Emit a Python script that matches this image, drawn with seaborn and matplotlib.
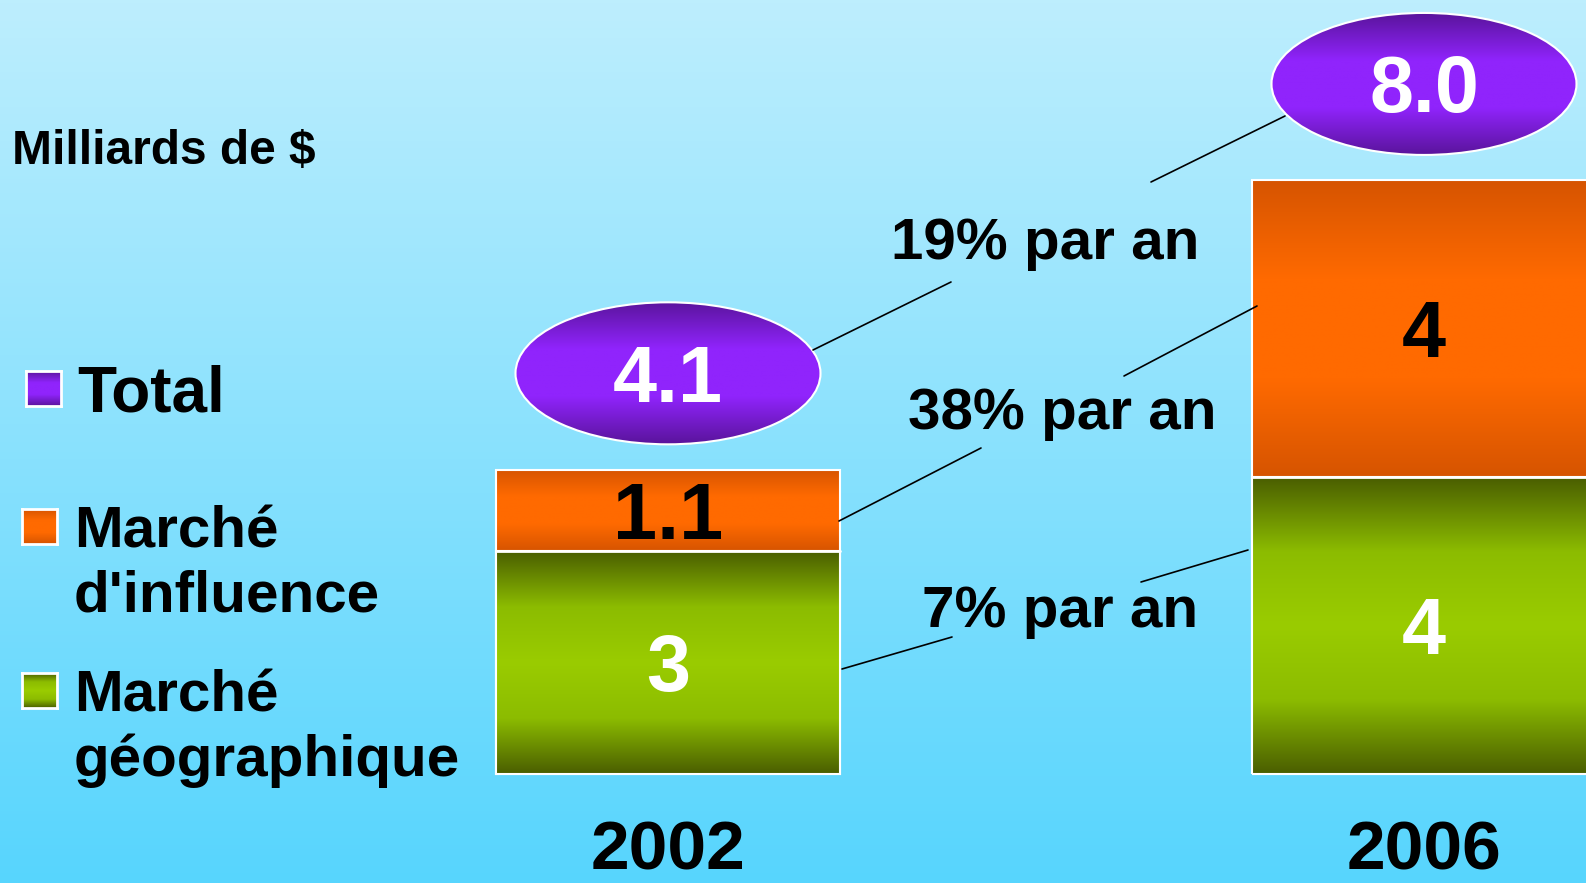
import numpy as np
import pandas as pd
import seaborn as sns
import matplotlib.pyplot as plt
from matplotlib.patches import Ellipse
from matplotlib.colors import LinearSegmentedColormap

# data
years = ["2002", "2006"]
geo = [3, 4]            # Marché géographique
influence = [1.1, 4]    # Marché d'influence
totals = [4.1, 8.0]
total_labels = ["4.1", "8.0"]
geo_labels = ["3", "4"]
influence_labels = ["1.1", "4"]
growth_labels = ["19% par an", "38% par an", "7% par an"]
legend_labels = ["Total", "Marché\nd'influence", "Marché\ngéographique"]

W, H = 1586, 883
PX_UNIT = 74.2     # pixels per billion
Y0 = H - 774       # pixel row of the baseline, from the bottom
X_STEP = 756       # pixels between the two bars
X0 = 668           # centre of the first bar
BAR_W = 0.455
NUM_FS = 57
# half the digit height (cap height ~0.716 em), in data units
HALF_DIGIT = 0.716 * NUM_FS * 100 / 72 / 2 / PX_UNIT

sns.set_theme(style="white")
plt.rcParams['font.family'] = ['Liberation Sans', 'DejaVu Sans']

fig = plt.figure(figsize=(W / 100, H / 100), dpi=100)
ax = fig.add_axes([0, 0, 1, 1])
xlim = (-X0 / X_STEP, (W - X0) / X_STEP)
ylim = (-Y0 / PX_UNIT, (H - Y0) / PX_UNIT)


def grad_cmap(dark, light):
    return LinearSegmentedColormap.from_list("g", [dark, light, light, dark],
                                             N=256)


def vgrad():
    return np.linspace(0, 1, 256).reshape(-1, 1)


purple = grad_cmap("#5a149c", "#9024fc")
orange = grad_cmap("#d65400", "#ff6a00")
green = LinearSegmentedColormap.from_list(
    "gr", ["#4a5e00", "#8cbc00", "#9acc00", "#8cbc00", "#4a5e00"])
bg = LinearSegmentedColormap.from_list("bg", ["#57d5fe", "#bdeefd"])

# background
ax.imshow(vgrad(), cmap=bg, aspect="auto", origin="lower",
          extent=(*xlim, *ylim), zorder=0)

df = pd.DataFrame({"year": years, "geo": geo, "total": totals})
sns.barplot(data=df, x="year", y="total", color="#ff6600", width=BAR_W,
            edgecolor="white", linewidth=1.5, ax=ax, zorder=2)
sns.barplot(data=df, x="year", y="geo", color="#99cc00", width=BAR_W,
            edgecolor="white", linewidth=1.5, ax=ax, zorder=3)

patches = list(ax.patches)
tot_patches, geo_patches = patches[:2], patches[2:4]
for i, p in enumerate(tot_patches):
    x0 = p.get_x()
    x1 = x0 + p.get_width()
    p.set_facecolor("none")
    im = ax.imshow(vgrad(), cmap=orange, aspect="auto", origin="lower",
                   extent=(x0, x1, geo[i], totals[i]), zorder=1.5)
    im.set_clip_path(p)
for i, p in enumerate(geo_patches):
    x0 = p.get_x()
    x1 = x0 + p.get_width()
    p.set_facecolor("none")
    im = ax.imshow(vgrad(), cmap=green, aspect="auto", origin="lower",
                   extent=(x0, x1, 0, geo[i]), zorder=2.5)
    im.set_clip_path(p)
    # white divider between the segments
    ax.plot([x0, x1], [geo[i], geo[i]], color="white", lw=2, zorder=4)

# value labels in the bars
for i in range(2):
    ax.text(i, geo[i] + influence[i] / 2 - HALF_DIGIT, influence_labels[i],
            ha="center", va="baseline", fontsize=NUM_FS, fontweight="bold",
            color="black", zorder=5)
    ax.text(i, geo[i] / 2 - HALF_DIGIT, geo_labels[i], ha="center",
            va="baseline", fontsize=NUM_FS, fontweight="bold", color="white",
            zorder=5)

# total ellipses
ell_w = 305 / X_STEP
ell_h = 142 / PX_UNIT
for i in range(2):
    cy = totals[i] + 1.3
    e = Ellipse((i, cy), ell_w, ell_h, facecolor="none", edgecolor="white",
                lw=1.5, zorder=6)
    ax.add_patch(e)
    im = ax.imshow(vgrad(), cmap=purple, aspect="auto", origin="lower",
                   extent=(i - ell_w / 2, i + ell_w / 2, cy - ell_h / 2, cy + ell_h / 2),
                   zorder=5.5)
    im.set_clip_path(e)
    ax.text(i, cy - HALF_DIGIT, total_labels[i], ha="center", va="baseline",
            fontsize=NUM_FS, fontweight="bold", color="white", zorder=7)

# year labels
for i, y in enumerate(years):
    ax.text(i, (13 - Y0) / PX_UNIT, y, ha="center", va="baseline", fontsize=50,
            fontweight="bold", color="black", zorder=7)

ax.set_xlim(*xlim)
ax.set_ylim(*ylim)
ax.set_axis_off()


# everything below is positioned in figure pixels
def fx(px):
    return px / W


def fy(py):
    return 1 - py / H


connectors = [((813, 350), (951, 282)), ((1151, 182), (1285, 116)),
              ((839, 521), (981, 448)), ((1124, 376), (1257, 306)),
              ((842, 669), (952, 637)), ((1141, 582), (1248, 550))]
for (a, b) in connectors:
    fig.add_artist(plt.Line2D([fx(a[0]), fx(b[0])], [fy(a[1]), fy(b[1])],
                              color="black", lw=1.2, zorder=8))

growth_pos = [(1045, 259), (1062, 429), (1060, 627)]
for lab, (px, py) in zip(growth_labels, growth_pos):
    fig.text(fx(px), fy(py), lab, ha="center", va="baseline", fontsize=42,
             fontweight="bold", color="black")

fig.text(fx(12), fy(164), "Milliards de $", ha="left", va="baseline",
         fontsize=34.5, fontweight="bold", color="black")

# legend
leg_cmaps = [purple, orange, green]
leg_boxes = [(26, 371), (22, 509), (22, 673)]
leg_text = [(77, 411, 46), (74, 547, 42), (74, 711, 42)]
for cm, (bx, by), lab, (tx, ty, fs) in zip(leg_cmaps, leg_boxes, legend_labels, leg_text):
    lax = fig.add_axes([fx(bx), fy(by + 35), 35 / W, 35 / H])
    lax.imshow(vgrad(), cmap=cm, aspect="auto", origin="lower")
    for s in lax.spines.values():
        s.set_color("white")
        s.set_linewidth(2)
    lax.set_xticks([])
    lax.set_yticks([])
    for k, line in enumerate(lab.split("\n")):
        fig.text(fx(tx), fy(ty + k * 65), line, ha="left", va="baseline",
                 fontsize=fs, fontweight="bold", color="black")

fig.savefig("out.png", dpi=100)
